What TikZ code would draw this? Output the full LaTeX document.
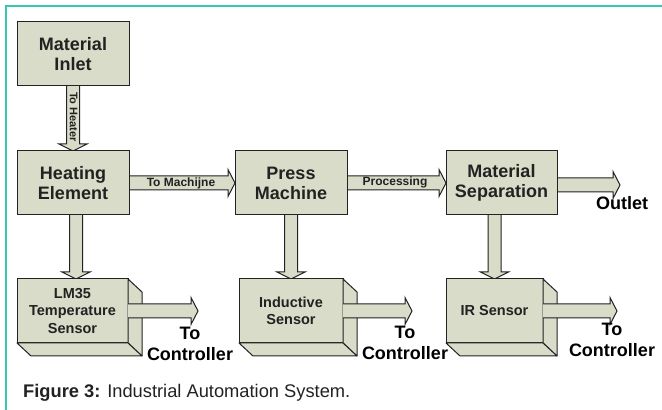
\documentclass[tikz,border=0pt]{standalone}
\usepackage{fontspec}
\setmainfont{Liberation Sans}
\usetikzlibrary{calc}
\definecolor{boxfill}{RGB}{217,220,201}
\definecolor{frameteal}{RGB}{52,200,178}
\definecolor{inkgray}{RGB}{34,34,34}
\pgfdeclarelayer{back}
\pgfsetlayers{back,main}
\tikzset{
  >=stealth,
  stage/.style={draw=inkgray,fill=boxfill,line width=1pt,outer sep=0pt,inner sep=0pt,
    minimum width=112pt,minimum height=64pt,align=center,text=inkgray,
    font=\bfseries\fontsize{18}{20}\selectfont},
  sensor/.style={stage,font=\bfseries\fontsize{14.5}{17.5}\selectfont},
  side/.style={draw=inkgray,fill=boxfill,line width=1pt,line join=round},
  flow/.style={draw=inkgray,fill=boxfill,line width=1pt},
  flowlabel/.style={text=inkgray,inner sep=0pt,font=\bfseries\fontsize{12}{14}\selectfont},
  outlabel/.style={text=black,inner sep=0pt,align=center,font=\bfseries\fontsize{18}{21}\selectfont}
}
% block arrow to the right: start point, tip point
\newcommand{\hblock}[2]{\filldraw[flow] let \p1=#1, \p2=#2 in
  (\x1,\y1+7pt) -- (\x2-7pt,\y1+7pt) -- (\x2-7pt,\y1+13.5pt) -- (\x2,\y1)
  -- (\x2-7pt,\y1-13.5pt) -- (\x2-7pt,\y1-7pt) -- (\x1,\y1-7pt);}
% block arrow downwards: start point, tip point
\newcommand{\vblock}[2]{\filldraw[flow] let \p1=#1, \p2=#2 in
  (\x1-6.5pt,\y1) -- (\x1-6.5pt,\y2+7pt) -- (\x1-14pt,\y2+7pt) -- (\x1,\y2)
  -- (\x1+14pt,\y2+7pt) -- (\x1+6.5pt,\y2+7pt) -- (\x1+6.5pt,\y1);}

\begin{document}
\begin{tikzpicture}[x=1pt,y=1pt]
\useasboundingbox (0,0) rectangle (662,410);
\draw[frameteal,line width=1.5pt] (6,0) -- (6,404) -- (662,404);

% process stages
\node[stage] (inlet) at (73,356) {Material\\Inlet};
\node[stage] (heat) at (73,227) {Heating\\Element};
\node[stage] (press) at (291,227) {Press\\Machine};
\node[stage,minimum width=111pt] (sep) at (501.5,227) {Material\\Separation};

% sensors
\node[sensor,minimum width=111pt] (lm) at (72.5,99) {LM35\\Temperature\\Sensor};
\node[sensor,minimum width=104pt] (ind) at (291,99) {Inductive\\Sensor};
\node[sensor,minimum width=97pt] (ir) at (494.5,99) {IR Sensor};
\foreach \s in {lm,ind,ir} {
  \filldraw[side] (\s.north east) -- ++(14,-13) -- ($(\s.south east)+(14,-13)$) -- (\s.south east) -- cycle;
  \filldraw[side] (\s.south west) -- ++(14,-13) -- ($(\s.south east)+(14,-13)$) -- (\s.south east) -- cycle;
}

\coordinate (outlet) at (620,225);
\coordinate (lmout) at (198,98);
\coordinate (indout) at (412,98);
\coordinate (irout) at (617,98);

\begin{pgfonlayer}{back}
\vblock{(inlet.south)}{(heat.north)}
\hblock{(heat.east)}{(press.west)}
\hblock{(press.east)}{(sep.west)}
\hblock{([yshift=-2pt]sep.east)}{(outlet)}
\vblock{([xshift=3pt]heat.south)}{(lm.north)}
\vblock{(press.south)}{(ind.north)}
\vblock{(sep.south -| ir.north)}{(ir.north)}
\end{pgfonlayer}
\hblock{(lm.east)}{(lmout)}
\hblock{(ind.east)}{(indout)}
\hblock{(ir.east)}{(irout)}

% labels
\node[flowlabel,rotate=-90,font=\bfseries\fontsize{11}{13}\selectfont] (toheat) at (73.5,293) {To Heater};
\node[flowlabel] (tomach) at (181,227) {To Machijne};
\node[flowlabel] (proc) at (395,228) {Processing};
\node[outlabel] (outtxt) at (622,207) {Outlet};
\node[outlabel] (lmtxt) at (190,66) {To\\Controller};
\node[outlabel] (indtxt) at (405,67) {To\\Controller};
\node[outlabel] (irtxt) at (612,70) {To\\Controller};

\node[anchor=base west,inner sep=0pt,text=inkgray,font=\fontsize{18.3}{20}\selectfont] (caption) at (23,12)
  {\textbf{Figure 3:} Industrial Automation System.};
\end{tikzpicture}
\end{document}
